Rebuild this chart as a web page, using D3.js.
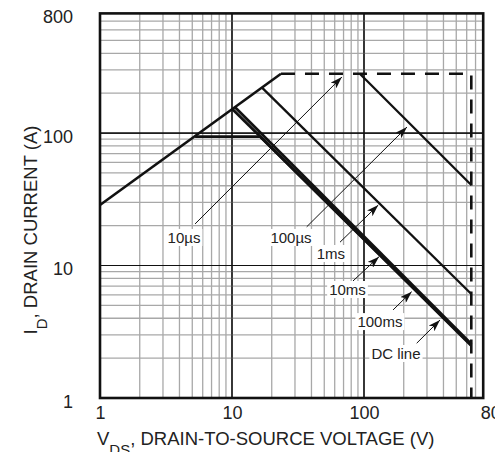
<!DOCTYPE html>
<html>
<head>
<meta charset="utf-8">
<script src="https://cdn.jsdelivr.net/npm/d3@7"></script>
<style>
  html, body { margin: 0; padding: 0; background: #fff; }
  svg { display: block; font-family: "Liberation Sans", Arial, Helvetica, sans-serif; }
</style>
</head>
<body>
<svg id="chart" width="495" height="452"></svg>
<script>
// ---- data (VDS in V, ID in A) ----
const xTicks = [1, 10, 100, 800];
const yTicks = [1, 10, 100, 800];
const rdsLimit   = [[1, 28.6], [23.5, 280]];
const pkgLimit   = [[23.5, 280], [650, 280], [650, 1]];
const line100us  = [[93, 280], [650, 40.5]];
const line1ms    = [[16.8, 221], [650, 6.1]];
const line10ms   = [[10.05, 152], [650, 2.52]];
const line100ms  = [[10.5, 157], [650, 2.56]];
const dcLine     = [[5.25, 94], [16.3, 94], [650, 2.48]];
const labels     = ["10µs", "100µs", "1ms", "10ms", "100ms", "DC line"];
const arrowFrom  = [[5.25, 20.6], [36.8, 19.6], [65.8, 15.0], [82.5, 7.64], [166, 4.62], [250.7, 2.59]];
const arrowTo    = [[68.0, 264.7], [211.7, 111], [128.3, 28.6], [130, 11.65], [229.7, 6.35], [376.6, 3.88]];
const labelPos   = [[4.33, 14.8], [28.0, 14.8], [56.2, 11.2], [75, 5.99], [132, 3.43], [174.7, 1.97]];

const svg = d3.select("#chart");
const L = 100, R = 483.2, T = 13.4, B = 398;
const x = d3.scaleLog().domain([1, 800]).range([L, R]);
const y = d3.scaleLog().domain([1, 800]).range([B, T]);

// grid
const gx = x.ticks().filter(v => v > 1 && v < 800);
const gy = y.ticks().filter(v => v > 1 && v < 800);
const isMajor = v => v === 10 || v === 100;
const grid = svg.append("g");
grid.selectAll("line.vx").data(gx).join("line")
  .attr("x1", d => x(d)).attr("x2", d => x(d)).attr("y1", T).attr("y2", B)
  .attr("stroke", d => isMajor(d) ? "#111" : "#a8a8a8")
  .attr("stroke-width", d => isMajor(d) ? 1.2 : 1.3);
grid.selectAll("line.hy").data(gy).join("line")
  .attr("y1", d => y(d)).attr("y2", d => y(d)).attr("x1", L).attr("x2", R)
  .attr("stroke", d => isMajor(d) ? "#111" : "#a8a8a8")
  .attr("stroke-width", d => isMajor(d) ? 1.2 : 1.3);
// redraw major on top
grid.selectAll("line.mx").data(gx.filter(isMajor)).join("line")
  .attr("x1", d => x(d)).attr("x2", d => x(d)).attr("y1", T).attr("y2", B)
  .attr("stroke", "#111").attr("stroke-width", 1.2);
grid.selectAll("line.my").data(gy.filter(isMajor)).join("line")
  .attr("y1", d => y(d)).attr("y2", d => y(d)).attr("x1", L).attr("x2", R)
  .attr("stroke", "#111").attr("stroke-width", 1.2);

// frame
svg.append("rect").attr("x", L).attr("y", T).attr("width", R - L).attr("height", B - T)
  .attr("fill", "none").attr("stroke", "#111").attr("stroke-width", 2.6);

// curves
const line = d3.line().x(d => x(d[0])).y(d => y(d[1]));
const curves = [
  [rdsLimit, 2.6, null],
  [line100us, 2.3, null],
  [line1ms, 2.3, null],
  [dcLine, 2.6, null],
  [line10ms, 2.8, null],
  [line100ms, 2.8, null],
  [pkgLimit, 2.6, "14,10"]
];
curves.forEach(([data, w, dash]) => {
  svg.append("path").attr("d", line(data)).attr("fill", "none")
    .attr("stroke", "#111").attr("stroke-width", w)
    .attr("stroke-linejoin", "miter")
    .attr("stroke-dasharray", dash);
});

// arrow marker
svg.append("defs").append("marker")
  .attr("id", "ah").attr("markerUnits", "userSpaceOnUse")
  .attr("viewBox", "0 0 12 8").attr("markerWidth", 12).attr("markerHeight", 8)
  .attr("refX", 12).attr("refY", 4).attr("orient", "auto")
  .append("path").attr("d", "M0,0 L12,4 L0,8 L3,4 Z").attr("fill", "#111");

labels.forEach((t, i) => {
  svg.append("line")
    .attr("x1", x(arrowFrom[i][0])).attr("y1", y(arrowFrom[i][1]))
    .attr("x2", x(arrowTo[i][0])).attr("y2", y(arrowTo[i][1]))
    .attr("stroke", "#111").attr("stroke-width", 1)
    .attr("marker-end", "url(#ah)");
});
labels.forEach((t, i) => {
  const g = svg.append("g");
  const bg = g.append("rect").attr("fill", "#fff");
  const tx = g.append("text")
    .attr("x", x(labelPos[i][0])).attr("y", y(labelPos[i][1]))
    .attr("text-anchor", "middle").attr("font-size", 15).attr("fill", "#222")
    .text(t);
  const bb = tx.node().getBBox();
  bg.attr("x", bb.x - 2).attr("y", bb.y).attr("width", bb.width + 4).attr("height", bb.height);
});

// axes
const ax = svg.append("g").attr("transform", `translate(0,${B})`)
  .call(d3.axisBottom(x).tickValues(xTicks).tickFormat(d3.format("d")).tickSize(0).tickPadding(8));
ax.select(".domain").remove();
ax.selectAll("text").attr("font-size", 18).attr("fill", "#222")
  .attr("font-family", "'Liberation Sans', Arial, sans-serif")
  .filter(d => d === 800).attr("text-anchor", "start").attr("dx", -3);
const ay = svg.append("g").attr("transform", `translate(${L},0)`)
  .call(d3.axisLeft(y).tickValues(yTicks).tickFormat(d3.format("d")).tickSize(0).tickPadding(27));
ay.select(".domain").remove();
ay.selectAll("text").attr("font-size", 18).attr("fill", "#222").attr("dy", "0.5em")
  .attr("font-family", "'Liberation Sans', Arial, sans-serif");

// titles
const xt = svg.append("text").attr("x", 97).attr("y", 445).attr("font-size", 18.5).attr("fill", "#222");
xt.append("tspan").text("V");
xt.append("tspan").attr("font-size", 15).attr("dy", 10).text("DS");
xt.append("tspan").attr("dy", -10).text(", DRAIN-TO-SOURCE VOLTAGE (V)");

const yt = svg.append("text").attr("transform", "translate(37,230) rotate(-90)")
  .attr("text-anchor", "middle").attr("font-size", 18.5).attr("fill", "#222");
yt.append("tspan").text("I");
yt.append("tspan").attr("font-size", 15).attr("dy", 10).text("D");
yt.append("tspan").attr("dy", -10).text(", DRAIN CURRENT (A)");
</script>
</body>
</html>
